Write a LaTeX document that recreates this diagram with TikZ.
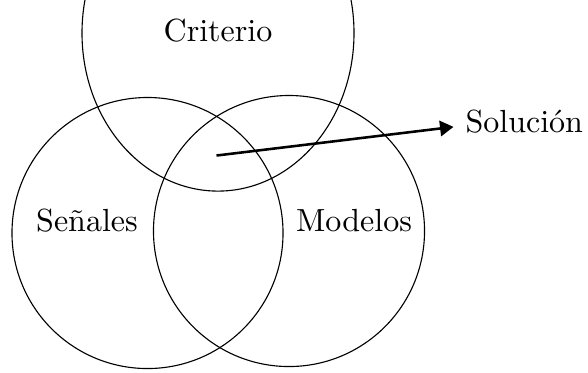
\documentclass[tikz,border=0pt]{standalone}
\usepackage{fontspec}
\usetikzlibrary{arrows.meta,shapes.geometric}
\begin{document}
\begin{tikzpicture}[x=0.3125pt,y=-0.3125pt,
  set/.style={draw, circle, line width=0.35pt, minimum size=84.7pt, inner sep=0pt},
  topset/.style={draw, ellipse, line width=0.35pt, minimum width=85pt, minimum height=98.8pt, inner sep=0pt},
  lbl/.style={anchor=base, inner sep=0pt, font=\normalsize},
  arr/.style={line width=0.8pt, -{Triangle[length=4.2pt,width=4.8pt]}}]
\useasboundingbox (0,0) rectangle (588,372);
\clip (0,0) rectangle (588,372);
\node[topset] (crit) at (218,33) {};
\node[set] (sen) at (147.5,233) {};
\node[set] (mod) at (289,231) {};
\node[lbl] (tcrit) at (218,41.5) {Criterio};
\node[lbl] (tsen) at (87,231) {Señales};
\node[lbl] (tmod) at (354,231) {Modelos};
\node[anchor=base west, inner sep=0pt] (sol) at (465,132.3) {Solución};
\coordinate (start) at (216.5,155.5);
\draw[arr] (start) -- ([xshift=-3.6pt,yshift=1.7pt]sol.base west);
\end{tikzpicture}
\end{document}
